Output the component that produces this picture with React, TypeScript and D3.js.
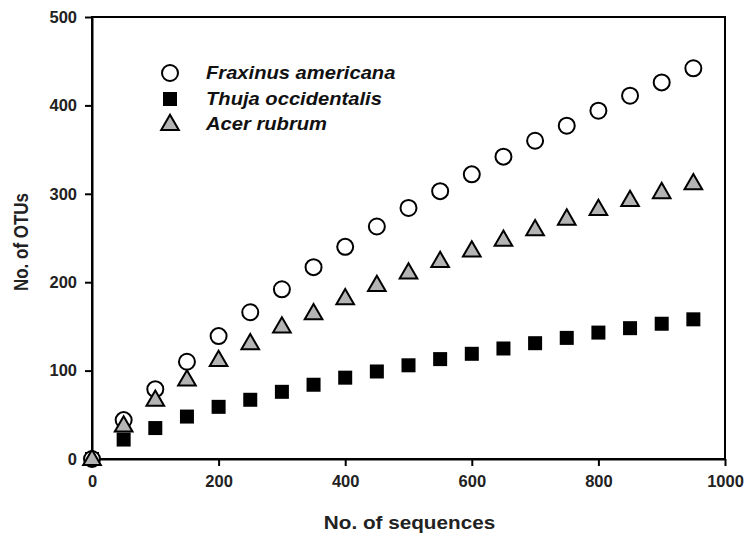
import * as d3 from "d3";
import React from "react";
import { useRef, useEffect } from "react";

// sequences sampled
const seqs = [0, 50, 100, 150, 200, 250, 300, 350, 400, 450, 500, 550, 600, 650, 700, 750, 800, 850, 900, 950];
// OTU counts
const fraxinus = [0, 44, 79, 110, 139, 166, 192, 217, 240, 263, 284, 303, 322, 342, 360, 377, 394, 411, 426, 442];
const thuja = [0, 22, 35, 48, 59, 67, 76, 84, 92, 99, 106, 113, 119, 125, 131, 137, 143, 148, 153, 158];
const acer = [0, 38, 67, 90, 112, 131, 150, 165, 182, 197, 211, 224, 236, 248, 260, 272, 283, 293, 302, 312];

const xTicks = [0, 200, 400, 600, 800, 1000];
const yTicks = [0, 100, 200, 300, 400, 500];
const legendNames = ["Fraxinus americana", "Thuja occidentalis", "Acer rubrum"];

const W = 747, H = 538;
const margin = { left: 92, right: 22, top: 17, bottom: 79 };
const font = "Arial, 'Liberation Sans', sans-serif";

export default function App() {
  const ref = useRef<SVGSVGElement>(null);

  useEffect(() => {
    const svg = d3.select(ref.current);
    svg.selectAll("*").remove();
    const drawW = W - margin.left - margin.right;
    const drawH = H - margin.top - margin.bottom;

    const x = d3.scaleLinear().domain([0, 1000]).range([0, drawW]);
    const y = d3.scaleLinear().domain([0, 500]).range([drawH, 0]);

    const g = svg.append("g").attr("transform", `translate(${margin.left},${margin.top})`);

    // frame (top and right lines)
    g.append("rect")
      .attr("x", 0).attr("y", 0)
      .attr("width", drawW).attr("height", drawH)
      .attr("fill", "none").attr("stroke", "#000").attr("stroke-width", 2);

    const xAxis = g.append("g")
      .attr("transform", `translate(0,${drawH})`)
      .call(d3.axisBottom(x).tickValues(xTicks).tickFormat(d3.format("d")).tickSize(7).tickPadding(9).tickSizeOuter(0));
    const yAxis = g.append("g")
      .call(d3.axisLeft(y).tickValues(yTicks).tickSize(7).tickPadding(8).tickSizeOuter(0));

    [xAxis, yAxis].forEach((a) => {
      a.select(".domain").attr("stroke-width", 2);
      a.selectAll(".tick line").attr("stroke-width", 2);
      a.selectAll(".tick text")
        .attr("font-family", font)
        .attr("font-size", 16.5)
        .attr("font-weight", "bold")
        .attr("fill", "#222");
    });

    const pts = (vals: number[]) => seqs.map((s, i) => ({ s, v: vals[i] }));

    const triangle = d3.symbol().type(d3.symbolTriangle).size(135);

    // thuja squares
    g.selectAll("rect.thuja").data(pts(thuja)).enter().append("rect")
      .attr("class", "thuja")
      .attr("x", (d) => x(d.s) - 7).attr("y", (d) => y(d.v) - 7)
      .attr("width", 14).attr("height", 14)
      .attr("fill", "#000");

    // fraxinus circles
    g.selectAll("circle.frax").data(pts(fraxinus)).enter().append("circle")
      .attr("class", "frax")
      .attr("cx", (d) => x(d.s)).attr("cy", (d) => y(d.v))
      .attr("r", 8)
      .attr("fill", "#fff").attr("stroke", "#000").attr("stroke-width", 2);

    // acer triangles
    g.selectAll("path.acer").data(pts(acer)).enter().append("path")
      .attr("class", "acer")
      .attr("d", triangle)
      .attr("transform", (d) => `translate(${x(d.s)},${y(d.v) + 1})`)
      .attr("fill", "#b4b4b4").attr("stroke", "#000").attr("stroke-width", 2);

    // legend
    const leg = svg.append("g");
    const ly = [73, 99, 124];
    const lx = 170;
    leg.append("circle").attr("cx", lx).attr("cy", ly[0]).attr("r", 8)
      .attr("fill", "#fff").attr("stroke", "#000").attr("stroke-width", 2);
    leg.append("rect").attr("x", lx - 7).attr("y", ly[1] - 7).attr("width", 14).attr("height", 14).attr("fill", "#000");
    leg.append("path").attr("d", triangle).attr("transform", `translate(${lx},${ly[2] + 1})`)
      .attr("fill", "#b4b4b4").attr("stroke", "#000").attr("stroke-width", 2);
    leg.selectAll("text").data(legendNames).enter().append("text")
      .attr("transform", (d, i) => `translate(206,${ly[i] + 6}) scale(1.12,1)`)
      .attr("font-family", font)
      .attr("font-size", 18)
      .attr("font-weight", "bold")
      .attr("font-style", "italic")
      .attr("fill", "#111")
      .text((d) => d);

    // axis titles
    svg.append("text")
      .attr("transform", `translate(${margin.left + drawW / 2 + 1},529) scale(1.12,1)`)
      .attr("text-anchor", "middle")
      .attr("font-family", font)
      .attr("font-size", 18.5).attr("font-weight", "bold").attr("fill", "#222")
      .text("No. of sequences");
    svg.append("text")
      .attr("transform", `translate(28,${margin.top + drawH / 2 + 4}) rotate(-90) scale(1,1.15)`)
      .attr("text-anchor", "middle")
      .attr("font-family", font)
      .attr("font-size", 17).attr("font-weight", "bold").attr("fill", "#222")
      .text("No. of OTUs");
  }, []);

  return (
    <svg ref={ref} width={W} height={H} style={{ position: "absolute", left: 0, top: 0, background: "#fff" }} />
  );
}
